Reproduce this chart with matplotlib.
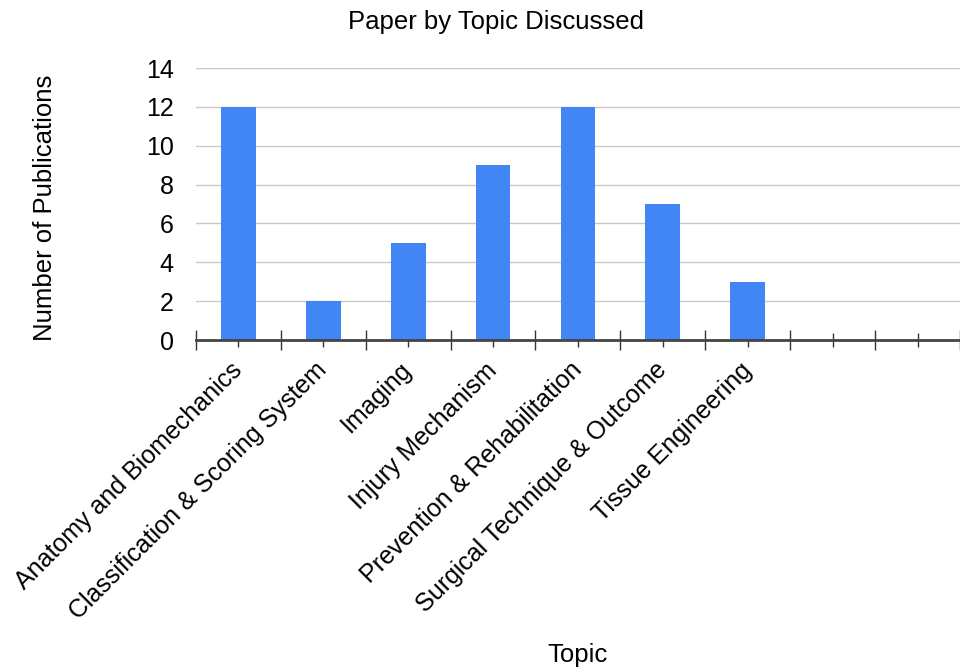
import matplotlib
matplotlib.use("Agg")
import matplotlib.pyplot as plt
import numpy as np

plt.rcParams['font.family'] = ['Liberation Sans', 'DejaVu Sans']

# Topics (two trailing empty slots on the category axis)
topics = [
    "Anatomy and Biomechanics",
    "Classification & Scoring System",
    "Imaging",
    "Injury Mechanism",
    "Prevention & Rehabilitation",
    "Surgical Technique & Outcome",
    "Tissue Engineering",
    "",
    "",
]
publications = [12, 2, 5, 9, 12, 7, 3]
y_ticks = [0, 2, 4, 6, 8, 10, 12, 14]

fig = plt.figure(figsize=(9.6, 6.7), dpi=100)
ax = fig.add_axes([0.204, 0.4925, 0.796, 0.406])

x = np.arange(len(publications))
ax.bar(x, publications, width=0.41, color="#4285F4", zorder=3)

ax.set_ylim(0, 14)
ax.set_xlim(-0.5, 8.35)
ax.set_yticks(y_ticks)
ax.yaxis.grid(True, color="#c8c8c8", linewidth=1.0, zorder=0)
ax.tick_params(axis="y", length=0, pad=16, labelsize=18)

# Category ticks at centers, boundary ticks between categories
ax.set_xticks(np.arange(len(topics)))
ax.set_xticklabels(topics, rotation=45, ha="right", va="center",
                   rotation_mode="anchor", fontsize=18)
ax.set_xticks(np.arange(len(topics) + 1) - 0.5, minor=True)
ax.tick_params(axis="x", which="major", direction="inout", length=10,
               width=1.0, color="#333333", pad=14)
ax.tick_params(axis="x", which="minor", direction="inout", length=14,
               width=1.0, color="#333333")

for side in ["left", "right", "top"]:
    ax.spines[side].set_visible(False)
ax.spines["bottom"].set_color("#444444")
ax.spines["bottom"].set_linewidth(2.0)
ax.spines["bottom"].set_zorder(4)

ax.set_ylabel("Number of Publications", fontsize=18.5)
ax.yaxis.set_label_coords(-0.182, 0.485)
ax.set_xlabel("Topic", fontsize=18.5)
ax.xaxis.set_label_coords(0.5, -1.114)
fig.text(0.517, 0.967, "Paper by Topic Discussed", ha="center", va="center",
         fontsize=18.5)

fig.savefig("out.png", dpi=100)
